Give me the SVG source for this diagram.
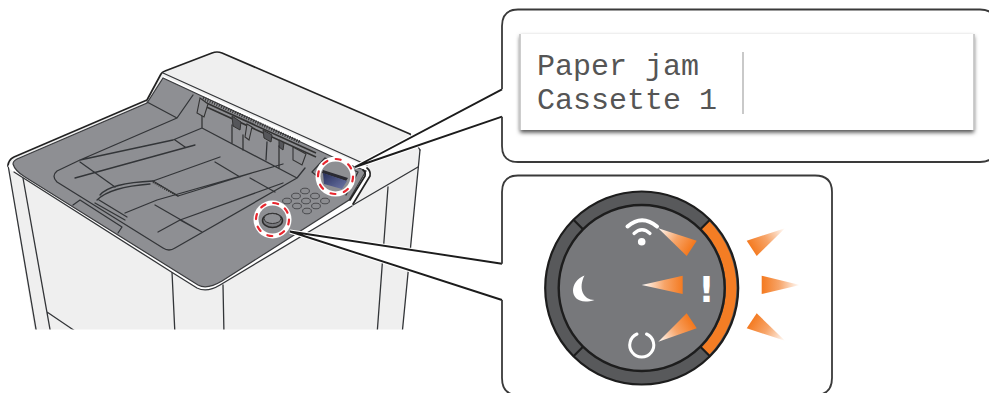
<svg xmlns="http://www.w3.org/2000/svg" xmlns:xlink="http://www.w3.org/1999/xlink" width="989" height="393" viewBox="0 0 989 393">
<defs>
<style>
.ln{fill:none;stroke:#333538;stroke-width:1.3;stroke-linecap:round;stroke-linejoin:round}
.hv{fill:none;stroke:#232323;stroke-width:1.7;stroke-linecap:round;stroke-linejoin:round}
.ky{fill:#8c8d91;stroke:#4a4b4e;stroke-width:1}
.red{fill:none;stroke:#e8262e;stroke-width:2.2;stroke-linecap:round}
.wh{fill:#fff;stroke:none}
.wht{fill:none;stroke:#fff;stroke-linecap:round}
.sep{stroke:#1d1d1d;stroke-width:2.2}
.lcd{font-family:"Liberation Mono","Courier New",monospace;font-size:30px;fill:#555}
</style>
<filter id="soft" x="-2%" y="-2%" width="104%" height="104%"><feGaussianBlur stdDeviation="0.45"/></filter>
<filter id="sh" x="-3%" y="-10%" width="106%" height="125%"><feDropShadow dx="0" dy="2.500" stdDeviation="2" flood-color="#000" flood-opacity="0.7"/></filter>
<clipPath id="cut"><rect x="0" y="0" width="500" height="329.5"/></clipPath>
<clipPath id="cut2"><rect x="490" y="170" width="360" height="223"/></clipPath>
<linearGradient id="scr" x1="0" y1="0" x2="1" y2="1"><stop offset="0" stop-color="#272f5c"/><stop offset="1" stop-color="#7078a8"/></linearGradient>
<linearGradient id="g" gradientUnits="userSpaceOnUse"><stop offset="0" stop-color="#f47a20"/><stop offset="0.45" stop-color="#f7a468"/><stop offset="1" stop-color="#ffffff"/></linearGradient>
<linearGradient id="g1" xlink:href="#g" x1="691" y1="248" x2="658" y2="228"/>
<linearGradient id="g2" xlink:href="#g" x1="683" y1="285" x2="642" y2="285"/>
<linearGradient id="g3" xlink:href="#g" x1="691" y1="321" x2="658" y2="342"/>
<linearGradient id="g4" xlink:href="#g" x1="751" y1="248" x2="785" y2="228"/>
<linearGradient id="g5" xlink:href="#g" x1="762" y1="285" x2="800" y2="285"/>
<linearGradient id="g6" xlink:href="#g" x1="751" y1="321" x2="785" y2="341"/>
</defs>
<rect width="989" height="393" fill="#fff"/>
<g id="printer" clip-path="url(#cut)" filter="url(#soft)">
<path d="M8 166 Q8 160 14 157 L147 100 L163 72 L212 53 Q217 51 222 53 L410 134 L420 150 L402 340 L36 340 Z" fill="#efefef"/>
<path d="M8 166 Q8 160 14 157 L147 100 L161 74 Q162 72 165 71 L212 53 Q217 51 222 53 L410 134" class="hv"/>
<path d="M8 165 L37 335 M23 178 L51 335 M47 312 L75 331 M172 272 L175 335 M223 285 L224 335 M420 150 L402 335 M388 187 L377 335 M163 73 L367 165" class="ln"/>
<path d="M353 205 L418 167 M410 134 L420 150" class="ln"/>
<path d="M8 166 Q10 170 14 172 L173 273 L197 288 Q207 293 220 285 L352 206 L370 175 Q370 170 367 167 L163 76 L150 102 L14 160 Z" fill="#fff"/>
<path d="M14 172 L173 273 L197 288 Q207 293 220 285 L352 206" class="ln"/>
<path d="M13 164 Q13 161 17 159 L147 103 L163 78 L350 165 Q362 169 366 171 L349 200 L222 281 Q207 290 198 285 L25 177 Q15 171 13 164 Z" fill="#8e8f93" stroke="#3a3b3e" stroke-width="1.2"/>
<path d="M367 168 Q371 171 370 176 L353 204 M363 170 Q366 172 365 176 L350 200" class="hv"/>
<path d="M147 102 L177 118 L193 95 M177 118 L80 160 L57 171 Q51 176 57 182 L163 248 Q169 252 175 248 L297 178 L305 168 M202 102 L202 128 L173 140 L80 160 M202 128 L297 178 M75 178 L195 145 M80 162 L115 187 M175 140 L185 147 M153 181 L220 157 M215 162 L240 177 M178 196 L252 173 M250 178 L275 192 M125 213 L157 200 L283 164 M158 232 L180 220 L283 183 M155 205 L202 232 M180 220 L202 232" class="ln"/>
<path d="M100 195 Q110 183 153 181 L178 196 M97 200 Q110 187 150 184 M95 203 L125 220 M99 200 L127 217 M73 205 L80 200 L122 227 L118 233" class="ln"/>
<path d="M153 182 L178 196" stroke="#333" stroke-width="2.2" stroke-dasharray="1 1.2" fill="none"/>
<path d="M200 100 L316 153 M200 104 L316 157" stroke="#333" stroke-width="1.6" fill="none"/>
<path d="M203 98 L300 142" stroke="#333" stroke-width="3.2" stroke-dasharray="1 1.5" fill="none"/>
<path d="M200 98 L208 104 L204 117 L197 113 Z M247 124 L252 127 L249 140 L245 137 Z M293 147 L306 154 L302 165 L293 160 Z" fill="#8e8f93" stroke="#333" stroke-width="1.1"/>
<path d="M232 116 L241 122 L240 130 L233 126 Z M263 130 L272 135 L271 142 L264 138 Z M279 140 L284 143 L283 150 L279 147 Z" fill="#55565a" stroke="#333" stroke-width="1"/>
<path d="M232 125 L232 143 M243 135 L243 150 M267 142 L266 160 M279 146 L279 168" class="ln"/>
<path d="M312 172 L325 158 L358 172 L346 195 M312 172 L327 184" class="ln"/>
<g id="keypad">
<ellipse class="ky" cx="305" cy="191" rx="4.400" ry="2.800"/><ellipse class="ky" cx="296" cy="196" rx="4.400" ry="2.800"/><ellipse class="ky" cx="315" cy="196" rx="4.400" ry="2.800"/><ellipse class="ky" cx="287" cy="201" rx="4.400" ry="2.800"/><ellipse class="ky" cx="306" cy="201" rx="4.400" ry="2.800"/><ellipse class="ky" cx="325" cy="201" rx="4.400" ry="2.800"/><ellipse class="ky" cx="297" cy="206" rx="4.400" ry="2.800"/><ellipse class="ky" cx="316" cy="206" rx="4.400" ry="2.800"/><ellipse class="ky" cx="307" cy="211" rx="4.400" ry="2.800"/>
</g>
</g>
<g id="connectors" filter="url(#soft)">
<path d="M355 167 L502 89.3 L502 116.7 Z" class="wh"/>
<path d="M290 231.5 L502 263.7 L502 300 Z" class="wh"/>
<path d="M355 167 L502 89.3 M355 167 L502 116.7 M290 231.5 L502 263.7 M290 231.5 L502 300" fill="none" stroke="#fff" stroke-width="4"/>
<path d="M355 167 L502 89.3 M355 167 L502 116.7 M290 231.5 L502 263.7 M290 231.5 L502 300" fill="none" stroke="#1c1c1c" stroke-width="1.900"/>
</g>
<g id="highlight-display" filter="url(#soft)">
<circle cx="335.5" cy="176.5" r="20" fill="#fff"/>
<circle cx="335.5" cy="176.500" r="15" fill="#8e8f93"/>
<path d="M323 170 L348 178 L346 181 L322 173 Z" fill="#2a2a30"/>
<path d="M323 173 L347 181 L342 189 L324 184 Z" fill="url(#scr)"/>
<circle class="red" cx="335.5" cy="176.5" r="17.500" stroke-dasharray="5 8.700"/>
</g>
<g id="highlight-button" filter="url(#soft)">
<circle cx="272.5" cy="219.5" r="19" fill="#fff"/>
<circle cx="272.5" cy="219.5" r="14" fill="#8e8f93"/>
<ellipse cx="272.5" cy="220.5" rx="10" ry="7" fill="#77787b" stroke="#2a2a2a" stroke-width="1.5"/>
<ellipse cx="272.5" cy="218.5" rx="8.5" ry="5" fill="#8e8f93" stroke="#333" stroke-width="1"/>
<circle class="red" cx="272.5" cy="219.5" r="16.500" stroke-dasharray="5 8"/>
</g>
<g id="callout-display">
<path d="M502 89.3 L502 26 Q502 9.5 518 9.5 L980 9.5 Q996 9.5 996 26 L996 146 Q996 162 980 162 L518 162 Q502 162 502 146 L502 116.7" style="fill:none;stroke:#3a3a3a;stroke-width:1.8"/>
<rect x="520" y="34" width="454" height="96" fill="#fff" filter="url(#sh)"/>
<path d="M520 34 L520 130 M974 34 L974 130" stroke="#c8c8c8" stroke-width="1.800"/>
<path d="M743 52 L743 114" stroke="#bcbcbc" stroke-width="1.6"/>
<text class="lcd" x="537" y="75">Paper jam</text>
<text class="lcd" x="537" y="109">Cassette 1</text>
</g>
<g id="callout-button" clip-path="url(#cut2)">
<path d="M502 263.7 L502 192 Q502 175.500 518 175.500 L815 175.500 Q832 175.500 832 192 L832 378 Q832 395 815 395 L518 395 Q502 395 502 378 L502 300" style="fill:none;stroke:#3a3a3a;stroke-width:1.8"/>
<circle cx="641.700" cy="288" r="96.500" fill="#58595b" stroke="#1d1d1d" stroke-width="2.200"/>
<path d="M708.500 220.500 A95.500 95.500 0 0 1 708.500 355.500 L701 348 A84.500 84.500 0 0 0 701 228 Z" fill="#f47d24"/>
<circle cx="641.700" cy="288" r="83" fill="#77787b" stroke="#1d1d1d" stroke-width="2.400"/>
<path class="sep" d="M700.400 229.300 L709.900 219.800 M700.400 346.700 L709.900 356.200 M583 229.300 L573.500 219.800 M583 346.700 L573.500 356.200" fill="none"/>
<g id="icons">
<circle cx="641.700" cy="241.800" r="3.800" fill="#fff"/>
<path class="wht" stroke-width="4" d="M627.500 226.500 Q642 214 657 226.500"/>
<path class="wht" stroke-width="3.200" d="M634 233.500 Q642 226 650 233.500"/>
<path d="M584.500 275.500 C567 282 569 308 594.500 300 C583 300 578 288 584.500 275.500 Z" fill="#fff"/>
<path class="wht" stroke-width="3" d="M637 334 A12 12 0 1 0 646.500 334"/>
<text x="706.500" y="302" text-anchor="middle" font-family="'DejaVu Sans',sans-serif" font-weight="700" font-size="35" fill="#fff">!</text>
</g>
<path d="M658.300 228.300 L696.700 240.700 L686.700 256 Z" fill="url(#g1)"/>
<path d="M641.700 285 L682.700 275.700 L682.700 294 Z" fill="url(#g2)"/>
<path d="M658.300 341.700 L686.700 313.300 L696.700 328.300 Z" fill="url(#g3)"/>
<path d="M785 228.300 L746.700 240.700 L756.700 256 Z" fill="url(#g4)"/>
<path d="M800 285 L761.700 275.700 L761.700 294 Z" fill="url(#g5)"/>
<path d="M785 340.700 L756.700 313.300 L746.700 328.300 Z" fill="url(#g6)"/>
</g>
</svg>
